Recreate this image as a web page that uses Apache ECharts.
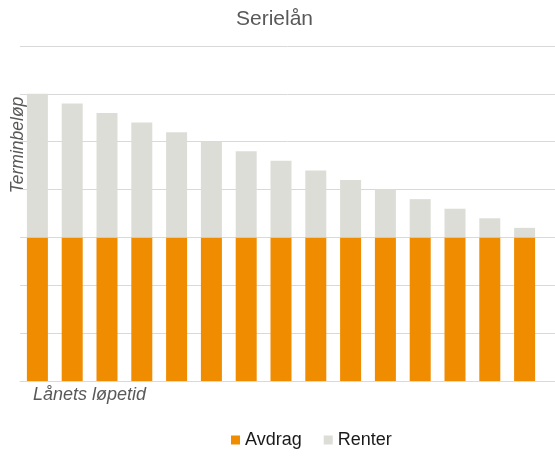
<!DOCTYPE html>
<html>
<head>
<meta charset="utf-8">
<script src="https://cdn.jsdelivr.net/npm/echarts@6/dist/echarts.min.js"></script>
<style>
  html, body { margin: 0; padding: 0; background: #fff; }
  #chart { width: 555px; height: 456px; }
</style>
</head>
<body>
<div id="chart"></div>
<script>
// data (one unit = one gridline step)
var periods = ['1', '2', '3', '4', '5', '6', '7', '8', '9', '10', '11', '12', '13', '14', '15'];
var avdrag = [3, 3, 3, 3, 3, 3, 3, 3, 3, 3, 3, 3, 3, 3, 3];
var renter = [3.0, 2.8, 2.6, 2.4, 2.2, 2.0, 1.8, 1.6, 1.4, 1.2, 1.0, 0.8, 0.6, 0.4, 0.2];

var font = 'Liberation Sans, Arial, sans-serif';
var gridColor = '#d9d9d9';
var chart = echarts.init(document.getElementById('chart'));

var option = {
    animation: false,
    title: {
        text: 'Serielån',
        left: 231,
        top: 4,
        textStyle: { fontFamily: font, fontSize: 21, fontWeight: 'normal', color: '#595959' }
    },
    legend: {
        left: 226,
        top: 426,
        itemWidth: 9,
        itemHeight: 9,
        itemGap: 22,
        icon: 'rect',
        textStyle: { fontFamily: font, fontSize: 18, color: '#1a1a1a' },
        data: ['Avdrag', 'Renter']
    },
    // grid 0 holds the bars, grid 1 only draws the gridlines, which run a bit further right
    grid: [
        { left: 20, right: 13, top: 46, bottom: 75 },
        { left: 20, right: 0, top: 46, bottom: 75 }
    ],
    xAxis: [
        {
            type: 'category',
            gridIndex: 0,
            data: periods,
            axisLine: { show: false },
            axisTick: { show: false },
            axisLabel: { show: false }
        },
        {
            type: 'value',
            gridIndex: 1,
            min: 0,
            max: 1,
            axisLine: { show: true, lineStyle: { color: gridColor } },
            axisTick: { show: false },
            axisLabel: { show: false },
            splitLine: { show: false }
        }
    ],
    yAxis: [
        {
            type: 'value',
            gridIndex: 0,
            min: 0,
            max: 7,
            interval: 1,
            axisLabel: { show: false },
            axisLine: { show: false },
            axisTick: { show: false },
            splitLine: { show: false }
        },
        {
            type: 'value',
            gridIndex: 1,
            min: 0,
            max: 7,
            interval: 1,
            axisLabel: { show: false },
            axisLine: { show: false },
            axisTick: { show: false },
            splitLine: { lineStyle: { color: gridColor } }
        }
    ],
    graphic: [
        {
            type: 'text',
            x: 18,
            y: 145,
            rotation: Math.PI / 2,
            style: {
                text: 'Terminbeløp',
                font: 'italic 17.5px ' + font,
                fill: '#595959',
                align: 'center',
                verticalAlign: 'middle'
            }
        },
        {
            type: 'text',
            left: 33,
            top: 386,
            style: {
                text: 'Lånets løpetid',
                font: 'italic 18px ' + font,
                fill: '#595959'
            }
        }
    ],
    series: [
        {
            name: 'Avdrag',
            type: 'bar',
            stack: 'sum',
            barWidth: 21,
            itemStyle: { color: '#f08c00' },
            data: avdrag
        },
        {
            name: 'Renter',
            type: 'bar',
            stack: 'sum',
            barWidth: 21,
            itemStyle: { color: '#ddddd8' },
            data: renter
        }
    ]
};

chart.setOption(option);
</script>
</body>
</html>
